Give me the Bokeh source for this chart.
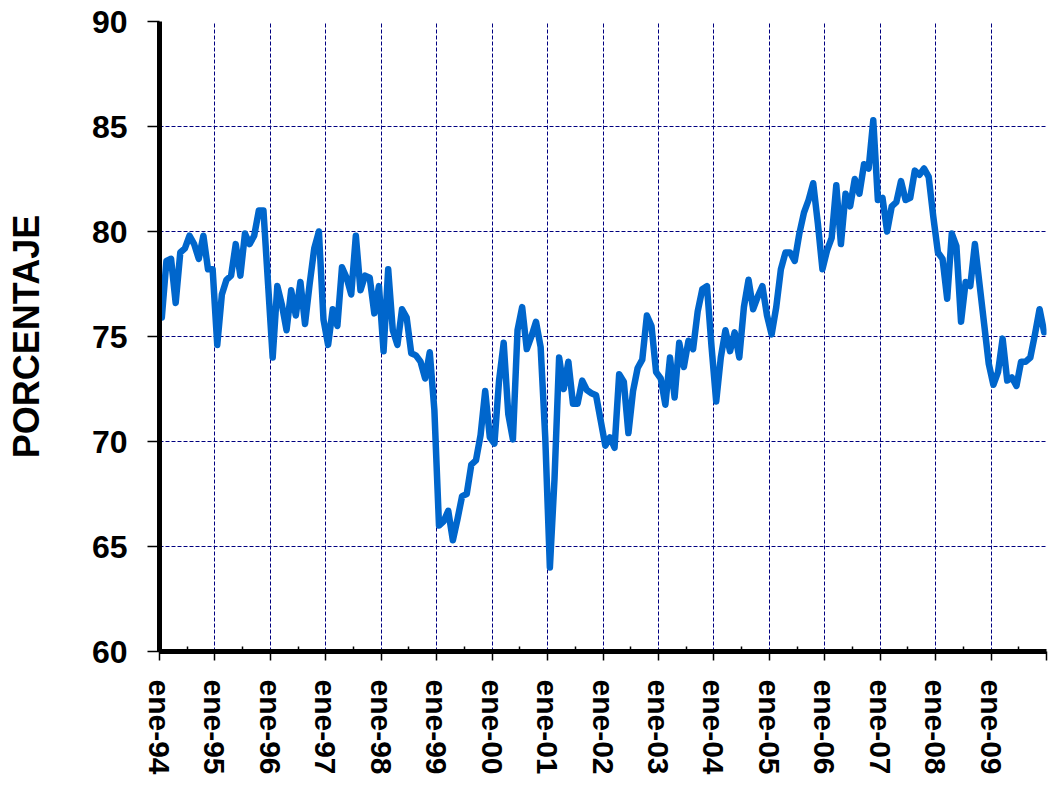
from bokeh.plotting import figure
from bokeh.models import Range1d, FixedTicker, ColumnDataSource
from bokeh.embed import file_html
from bokeh.resources import INLINE

years = ["94", "95", "96", "97", "98", "99", "00", "01", "02", "03", "04", "05", "06", "07", "08", "09"]
y1994 = [75.9, 78.6, 78.7, 76.6, 79.0, 79.2, 79.8, 79.4, 78.7, 79.8, 78.2, 78.2]
y1995 = [74.6, 77.0, 77.7, 77.9, 79.4, 77.9, 79.9, 79.4, 79.8, 81.0, 81.0, 77.5]
y1996 = [74.0, 77.4, 76.5, 75.3, 77.2, 76.0, 77.6, 75.6, 77.5, 79.2, 80.0, 75.8]
y1997 = [74.6, 76.3, 75.5, 78.3, 77.8, 77.0, 79.8, 77.2, 77.9, 77.8, 76.1, 77.4]
y1998 = [74.3, 78.2, 75.3, 74.6, 76.3, 75.9, 74.2, 74.1, 73.8, 73.0, 74.25, 71.5]
y1999 = [66.0, 66.2, 66.7, 65.3, 66.3, 67.4, 67.5, 68.9, 69.1, 70.3, 72.4, 70.2]
y2000 = [69.9, 72.9, 74.7, 71.3, 70.1, 75.3, 76.4, 74.4, 75.0, 75.7, 74.5, 70.2]
y2001 = [64.0, 68.2, 74.0, 72.5, 73.8, 71.8, 71.8, 72.9, 72.45, 72.3, 72.2, 71.0]
y2002 = [69.8, 70.2, 69.7, 73.2, 72.85, 70.4, 72.4, 73.5, 73.9, 76.0, 75.5, 73.3]
y2003 = [73.0, 71.75, 74.0, 72.1, 74.7, 73.55, 74.8, 74.4, 76.2, 77.25, 77.4, 74.5]
y2004 = [71.9, 74.0, 75.3, 74.3, 75.2, 74.0, 76.4, 77.7, 76.3, 76.9, 77.4, 76.0]
y2005 = [75.1, 76.4, 78.2, 79.0, 79.0, 78.6, 79.9, 80.9, 81.5, 82.3, 80.4, 78.2]
y2006 = [79.1, 79.7, 82.2, 79.4, 81.8, 81.2, 82.5, 81.8, 83.2, 83.0, 85.3, 81.5]
y2007 = [81.6, 80.0, 81.2, 81.4, 82.4, 81.5, 81.6, 82.9, 82.7, 83.0, 82.6, 80.7]
y2008 = [79.0, 78.7, 76.8, 79.9, 79.3, 75.7, 77.6, 77.4, 79.4, 77.5, 75.6, 73.7]
y2009 = [72.7, 73.3, 74.9, 72.9, 73.05, 72.65, 73.8, 73.8, 74.0, 75.1, 76.3, 75.2]

values = (y1994 + y1995 + y1996 + y1997 + y1998 + y1999 + y2000 + y2001 +
          y2002 + y2003 + y2004 + y2005 + y2006 + y2007 + y2008 + y2009)
months = [i + 0.5 for i in range(len(values))]
tick_labels = ["ene-" + y for y in years]

src = ColumnDataSource(data=dict(x=months, y=values))

p = figure(width=1048, height=777, output_backend="svg", toolbar_location=None,
           x_range=Range1d(0, 192), y_range=Range1d(60, 90),
           min_border_left=159, min_border_right=2, min_border_top=21, min_border_bottom=126)
p.outline_line_color = None
p.background_fill_color = "white"
p.border_fill_color = "white"

p.line("x", "y", source=src, line_color="#0066CC", line_width=6.5, line_join="round", line_cap="round")

major = [12 * i for i in range(17)]
minor = [12 * i + 6 for i in range(16)]
p.xaxis.ticker = FixedTicker(ticks=major, minor_ticks=minor)
overrides = {12 * i: tick_labels[i] for i in range(16)}
overrides[192] = ""
p.xaxis.major_label_overrides = overrides
p.xaxis.major_label_orientation = "vertical"
p.yaxis.ticker = FixedTicker(ticks=[60, 65, 70, 75, 80, 85, 90])

for ax in (p.xaxis[0], p.yaxis[0]):
    ax.axis_line_width = 5
    ax.axis_line_color = "black"
    ax.major_tick_line_color = "black"
    ax.major_tick_line_width = 1.5
    ax.minor_tick_line_color = "black"
    ax.minor_tick_line_width = 1.5
    ax.major_label_text_font = "Liberation Sans"
    ax.major_label_text_font_style = "bold"
    ax.major_label_text_color = "black"

p.xaxis.major_tick_in = 0
p.xaxis.major_tick_out = 9
p.xaxis.minor_tick_in = 5
p.xaxis.minor_tick_out = 0
p.xaxis.major_label_text_font_size = "30px"
p.xaxis.major_label_standoff = 19

p.yaxis.major_tick_in = 0
p.yaxis.major_tick_out = 12
p.yaxis.minor_tick_line_color = None
p.yaxis.major_label_text_font_size = "32px"
p.yaxis.major_label_standoff = 20
p.yaxis.axis_label = "PORCENTAJE"
p.yaxis.axis_label_text_font = "Liberation Sans"
p.yaxis.axis_label_text_font_style = "bold"
p.yaxis.axis_label_text_font_size = "36px"
p.yaxis.axis_label_text_color = "black"
p.yaxis.axis_label_standoff = 42

p.xgrid.grid_line_color = "#000080"
p.xgrid.grid_line_width = 1
p.xgrid.grid_line_dash = "4 2"
p.ygrid.grid_line_color = "#000080"
p.ygrid.grid_line_width = 1
p.ygrid.grid_line_dash = "4 2"

open("out.html", "w").write(file_html(p, INLINE))
